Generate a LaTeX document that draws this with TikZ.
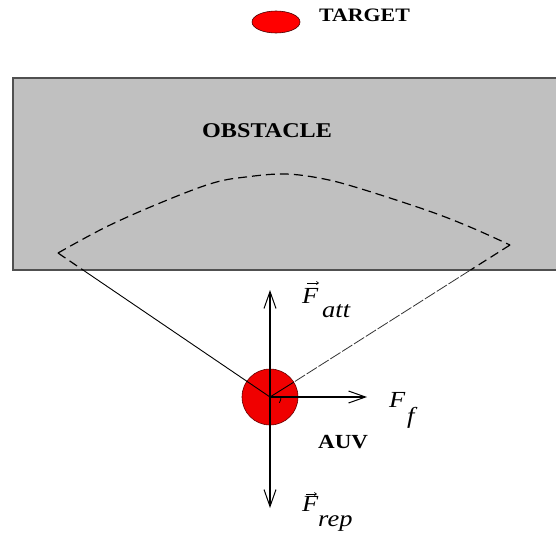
\documentclass[tikz,border=0pt]{standalone}
\usepackage{fontspec}
\setmainfont{Liberation Serif}
\usetikzlibrary{arrows.meta,shapes.geometric}
\newcommand{\wide}[1]{\scalebox{1.15}[1]{#1}}
\definecolor{obsgray}{RGB}{192,192,192}
\definecolor{obsedge}{RGB}{80,80,80}
\definecolor{auvred}{RGB}{240,0,0}
\tikzset{
  lbl/.style={inner sep=0pt, anchor=base west},
  boldlbl/.style={lbl, font=\fontsize{20}{21}\selectfont\bfseries},
  flbl/.style={lbl, font=\fontsize{23}{24}\selectfont\itshape},
  force/.style={line width=1.1pt, -{Straight Barb[length=17pt,width=12pt,line width=1pt]}},
  fan/.style={line width=1.2pt, dash pattern=on 9pt off 5pt},
  ray/.style={line width=0.9pt},
  lightray/.style={line width=0.8pt, black!80, dash pattern=on 12pt off 2pt},
  acc/.style={line width=0.7pt, -{Straight Barb[length=2pt,width=3pt]}}
}
\begin{document}
\begin{tikzpicture}[x=1pt,y=-1pt]
\useasboundingbox (0,0) rectangle (556,532);
% obstacle
\fill[obsgray] (13,78) rectangle (556,270);
\draw[obsedge, line width=1.8pt] (556,78) -- (13,78) -- (13,270) -- (556,270);
\node[boldlbl, font=\fontsize{21}{22}\selectfont\bfseries] (obs) at (202,137) {\wide{OBSTACLE}};
% target
\node[ellipse, fill=red, draw=black!70!red, line width=0.6pt, minimum width=48pt, minimum height=22pt, inner sep=0pt] (target) at (276,22) {};
\node[boldlbl, font=\fontsize{19}{20}\selectfont\bfseries] (targetlbl) at (319,22) {\wide{TARGET}};
% coordinates
\coordinate (L) at (58,253);
\coordinate (R) at (510,245);
\coordinate (Lb) at (83,270);
\coordinate (Rb) at (470.5,270);
\coordinate (up) at (270,290);
\coordinate (down) at (270,508);
\coordinate (right) at (367,397);
\coordinate (Redge) at (293.7,382.2);
% dashed field of view
\draw[fan] plot[smooth, tension=0.6] coordinates {(58,253) (106,227) (160,203) (213,183) (250,176.5) (285,174) (319,178) (355,187) (426,210) (470,227) (510,245)};
\draw[fan] (L) -- (Lb);
\draw[fan] (R) -- (Rb);
% AUV
\node[circle, fill=auvred, draw=black!60!red, line width=0.6pt, minimum size=56pt, inner sep=0pt] (auv) at (270,397) {};
\draw[ray] (Lb) -- (auv.center);
\draw[lightray] (Rb) -- (Redge);
\draw[ray] (Redge) -- (auv.center);
\draw[line width=0.8pt] (auv.center) ++(11,0) arc[start angle=0, end angle=32, radius=11];
% forces
\draw[force] (auv.center) -- (up);
\draw[force] (auv.center) -- (down);
\draw[force] (auv.center) -- (right);
% labels
\node[flbl] (fatt) at (302,303) {\wide{F}};
\node[flbl] (fattsub) at (322,317) {\wide{att}};
\draw[acc] (307,283) -- (319,283);
\node[flbl] (ff) at (389,407) {\wide{F}};
\node[flbl] (ffsub) at (407,423) {\wide{f}};
\node[flbl] (frep) at (302,511) {\wide{F}};
\node[flbl] (frepsub) at (318,526) {\wide{rep}};
\draw[acc] (306,494) -- (317,494);
\node[boldlbl] (auvlbl) at (318,448) {\wide{AUV}};
\end{tikzpicture}
\end{document}
